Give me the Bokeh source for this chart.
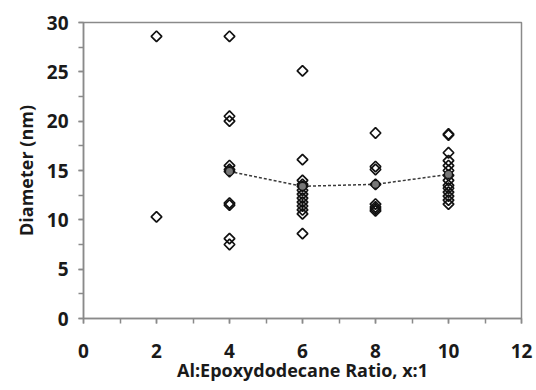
import numpy as np
from bokeh.plotting import figure
from bokeh.models import Range1d, SingleIntervalTicker, ColumnDataSource
from bokeh.embed import file_html
from bokeh.resources import INLINE

# Data
ratios = [2, 4, 6, 8, 10]
diameters = {
    2: [28.6, 10.3],
    4: [28.6, 20.5, 20.0, 15.5, 15.1, 14.9, 11.7, 11.5, 8.1, 7.5],
    6: [25.1, 16.1, 14.0, 13.6, 13.4, 13.0, 12.6, 12.2, 11.8, 11.4, 11.0, 10.6, 8.6],
    8: [18.8, 15.4, 15.1, 13.6, 11.6, 11.3, 11.1, 10.9],
    10: [18.7, 18.6, 16.8, 16.0, 15.5, 15.0, 14.5, 14.0, 13.5, 13.2, 12.8, 12.4, 12.0, 11.6],
}
mean_x = [4, 6, 8, 10]
mean_y = [14.9, 13.4, 13.6, 14.6]
x_title = "Al:Epoxydodecane Ratio, x:1"
y_title = "Diameter (nm)"

xs, ys = [], []
for r in ratios:
    for d in diameters[r]:
        xs.append(r)
        ys.append(d)
src = ColumnDataSource(dict(x=xs, y=ys))

FONT = "Open Sans"
TXT = "#1a1a1a"
AX = "#8a8a8a"

p = figure(width=536, height=390, output_backend="svg", toolbar_location=None,
           x_range=Range1d(0, 12), y_range=Range1d(0, 30),
           min_border_left=83, min_border_right=15, min_border_top=22, min_border_bottom=72)
p.xgrid.visible = False
p.ygrid.visible = False
p.outline_line_color = AX
p.outline_line_width = 1.5
p.background_fill_color = "white"
p.border_fill_color = "white"

p.xaxis.ticker = SingleIntervalTicker(interval=2, num_minor_ticks=2)
p.yaxis.ticker = SingleIntervalTicker(interval=5, num_minor_ticks=2)
for ax in (p.xaxis[0], p.yaxis[0]):
    ax.axis_line_color = AX
    ax.axis_line_width = 1.5
    ax.major_tick_line_color = AX
    ax.minor_tick_line_color = AX
    ax.major_tick_line_width = 1.5
    ax.minor_tick_line_width = 1.5
    ax.major_tick_in = 0
    ax.minor_tick_in = 0
    ax.major_tick_out = 5
    ax.minor_tick_out = 5
    ax.major_label_text_font = FONT
    ax.major_label_text_font_style = "bold"
    ax.major_label_text_font_size = "19px"
    ax.major_label_text_color = TXT
    ax.axis_label_text_font = FONT
    ax.axis_label_text_font_style = "bold"
    ax.axis_label_text_color = TXT

p.xaxis.major_label_standoff = 20
p.yaxis.major_label_standoff = 10
p.yaxis.axis_label = y_title
p.yaxis.axis_label_text_font_size = "18px"
p.yaxis.axis_label_standoff = 6
p.xaxis.axis_label = x_title
p.xaxis.axis_label_text_font_size = "18px"
p.xaxis.axis_label_standoff = -3

p.line(mean_x, mean_y, line_color="#3a3a3a", line_width=1.5, line_dash="3 2")
p.scatter("x", "y", source=src, marker="square", angle=np.pi / 4, size=7.5,
          fill_color="white", fill_alpha=0.0, line_color="#111111", line_width=1.7)
p.scatter(mean_x, mean_y, marker="circle", size=8, fill_color="#777777",
          line_color="#111111", line_width=1.2)

open("out.html", "w").write(file_html(p, INLINE))
